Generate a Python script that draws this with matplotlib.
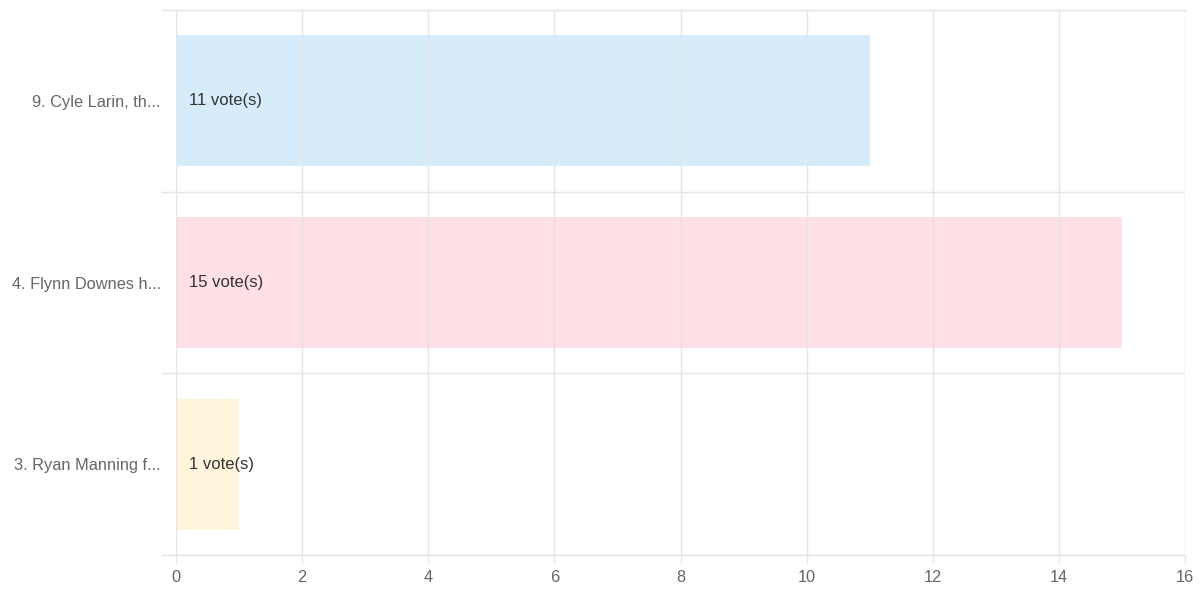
import matplotlib
matplotlib.use("Agg")
import matplotlib.pyplot as plt
import numpy as np

plt.rcParams['font.family'] = ['Liberation Sans', 'DejaVu Sans']

labels = ["9. Cyle Larin, th...", "4. Flynn Downes h...", "3. Ryan Manning f..."]
votes = [11, 15, 1]
colors = ["#d7ecfb", "#ffe0e6", "#fff5dd"]

fig = plt.figure(figsize=(12, 6), dpi=100)
ax = fig.add_axes([176 / 1200, 45 / 600, 1009 / 1200, 545 / 600])

y = np.arange(len(labels))
ax.barh(y, votes, height=0.72, color=colors, zorder=1)
for yi, v in zip(y, votes):
    ax.annotate("{} vote(s)".format(v), xy=(0, yi), xytext=(9.5, 0), textcoords="offset points",
                ha="left", va="center", fontsize=12, color="#333333", zorder=3)

ax.set_xlim(0, 16)
ax.set_ylim(len(labels) - 0.5, -0.5)
ax.set_xticks(np.arange(0, 17, 2))
ax.set_yticks(y)
ax.set_yticklabels(labels)
ax.set_yticks(np.arange(-0.5, len(labels)), minor=True)

ax.grid(True, axis="x", color="#e5e5e5", linewidth=1, zorder=2)
ax.grid(True, axis="y", which="minor", color="#e5e5e5", linewidth=1, zorder=2)
ax.set_axisbelow(False)

ax.tick_params(axis="y", which="major", length=0, pad=11, labelsize=11.8, labelcolor="#666666")
ax.tick_params(axis="y", which="minor", length=11, color="#e5e5e5", width=1)
ax.tick_params(axis="x", length=6, color="#e5e5e5", width=1, labelsize=11.8, labelcolor="#666666", pad=5)

ax.spines["right"].set_visible(False)
ax.spines["top"].set_color("#cccccc")
ax.spines["bottom"].set_color("#e0e0e0")
ax.spines["left"].set_color("#cccccc")

fig.savefig("out.png", dpi=100)
